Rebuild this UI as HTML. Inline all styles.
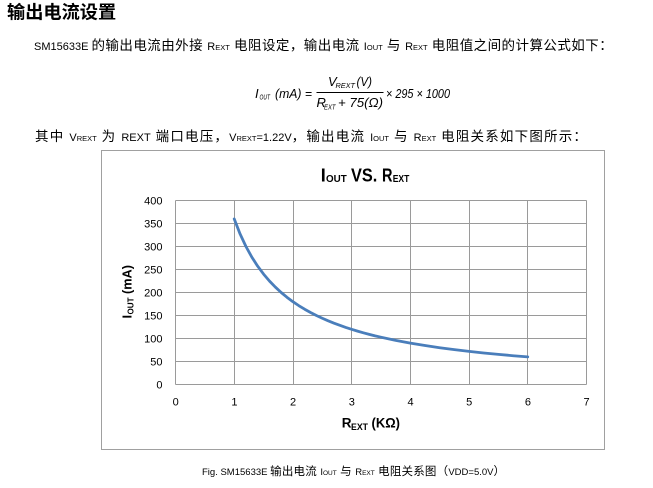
<!DOCTYPE html>
<html>
<head>
<meta charset="utf-8">
<style>
  html, body { margin:0; padding:0; background:#fff; }
  body { width:653px; height:488px; overflow:hidden; }
  svg { display:block; }
  .cj { font-family:"Liberation Sans","Noto Sans CJK SC",sans-serif; fill:#000; }
  .lt { font-family:"Liberation Sans",sans-serif; fill:#000; }
  .l { letter-spacing:0; }
</style>
</head>
<body>
<svg width="653" height="488" viewBox="0 0 653 488" xmlns="http://www.w3.org/2000/svg">
  <rect x="0" y="0" width="653" height="488" fill="#fff"/>

  <!-- Heading -->
  <text class="cj" x="7" y="18.5" font-size="18.2" font-weight="bold">输出电流设置</text>

  <!-- Line 1 -->
  <text class="cj" x="34" y="50" font-size="13.5" letter-spacing="0.45"><tspan class="l" font-size="11">SM15633E </tspan>的输出电流由外接 <tspan class="l" font-size="11">R</tspan><tspan class="l" font-size="7.5">EXT</tspan> 电阻设定，输出电流 <tspan class="l" font-size="11">I</tspan><tspan class="l" font-size="7.5">OUT</tspan> 与 <tspan class="l" font-size="11">R</tspan><tspan class="l" font-size="7.5">EXT</tspan> 电阻值之间的计算公式如下：</text>

  <!-- Formula -->
  <g class="lt" font-style="italic">
    <text x="255" y="98" font-size="13">I</text>
    <text x="259.5" y="99.5" font-size="7.5" textLength="10.5" lengthAdjust="spacingAndGlyphs">OUT</text>
    <text x="275" y="98" font-size="13" textLength="37" lengthAdjust="spacingAndGlyphs">(mA) =</text>
    <text x="328" y="86" font-size="13">V</text>
    <text x="335.5" y="88" font-size="7.5" textLength="19.5" lengthAdjust="spacingAndGlyphs">REXT</text>
    <text x="356.5" y="86" font-size="13" textLength="15.5" lengthAdjust="spacingAndGlyphs">(V)</text>
    <text x="316.5" y="107" font-size="13">R</text>
    <text x="324" y="109.5" font-size="7.5" textLength="11.5" lengthAdjust="spacingAndGlyphs">EXT</text>
    <text x="338" y="107" font-size="13" textLength="45" lengthAdjust="spacingAndGlyphs">+ 75(Ω)</text>
    <text x="386" y="98" font-size="13" textLength="64" lengthAdjust="spacingAndGlyphs">× 295 × 1000</text>
  </g>
  <line x1="316.5" y1="92.5" x2="383.5" y2="92.5" stroke="#000" stroke-width="1"/>

  <!-- Line 3 -->
  <text class="cj" x="35" y="141" font-size="13.5" letter-spacing="1.2">其中 <tspan class="l" font-size="11">V</tspan><tspan class="l" font-size="7.5">REXT</tspan> 为 <tspan class="l" font-size="11">REXT</tspan> 端口电压，<tspan class="l" font-size="11">V</tspan><tspan class="l" font-size="7.5">REXT</tspan><tspan class="l" font-size="11">=1.22V</tspan>，输出电流 <tspan class="l" font-size="11">I</tspan><tspan class="l" font-size="7.5">OUT</tspan> 与 <tspan class="l" font-size="11">R</tspan><tspan class="l" font-size="7.5">EXT</tspan> 电阻关系如下图所示：</text>

  <!-- Chart frame -->
  <rect x="101.5" y="150.5" width="503" height="299" fill="#fff" stroke="#a0a0a0" stroke-width="1"/>

  <!-- Title -->
  <g class="lt" font-weight="bold">
    <text x="320.7" y="181.7" font-size="18">I</text>
    <text x="326" y="182.2" font-size="10" textLength="20.7" lengthAdjust="spacingAndGlyphs">OUT</text>
    <text x="351" y="181.7" font-size="18" textLength="26.3" lengthAdjust="spacingAndGlyphs">VS.</text>
    <text x="382" y="181.7" font-size="18" textLength="10.5" lengthAdjust="spacingAndGlyphs">R</text>
    <text x="392.7" y="182.2" font-size="10" textLength="16.6" lengthAdjust="spacingAndGlyphs">EXT</text>
  </g>

  <!-- Grid -->
  <g stroke="#9a9a9a" stroke-width="1" shape-rendering="crispEdges">
    <line x1="175.5" y1="200.5" x2="586.5" y2="200.5"/>
    <line x1="175.5" y1="223.5" x2="586.5" y2="223.5"/>
    <line x1="175.5" y1="246.5" x2="586.5" y2="246.5"/>
    <line x1="175.5" y1="269.5" x2="586.5" y2="269.5"/>
    <line x1="175.5" y1="292.5" x2="586.5" y2="292.5"/>
    <line x1="175.5" y1="315.5" x2="586.5" y2="315.5"/>
    <line x1="175.5" y1="338.5" x2="586.5" y2="338.5"/>
    <line x1="175.5" y1="361.5" x2="586.5" y2="361.5"/>
    <line x1="175.5" y1="384.5" x2="586.5" y2="384.5"/>
    <line x1="175.5" y1="200.5" x2="175.5" y2="384.5"/>
    <line x1="234.5" y1="200.5" x2="234.5" y2="384.5"/>
    <line x1="293.5" y1="200.5" x2="293.5" y2="384.5"/>
    <line x1="351.5" y1="200.5" x2="351.5" y2="384.5"/>
    <line x1="410.5" y1="200.5" x2="410.5" y2="384.5"/>
    <line x1="469.5" y1="200.5" x2="469.5" y2="384.5"/>
    <line x1="527.5" y1="200.5" x2="527.5" y2="384.5"/>
    <line x1="586.5" y1="200.5" x2="586.5" y2="384.5"/>
  </g>

  <!-- Y tick labels -->
  <g class="lt" font-size="11" text-anchor="end">
    <text x="162.5" y="204.5">400</text>
    <text x="162.5" y="227.5">350</text>
    <text x="162.5" y="250.5">300</text>
    <text x="162.5" y="273.5">250</text>
    <text x="162.5" y="296.5">200</text>
    <text x="162.5" y="319.5">150</text>
    <text x="162.5" y="342.5">100</text>
    <text x="162.5" y="365.5">50</text>
    <text x="162.5" y="388.5">0</text>
  </g>

  <!-- X tick labels -->
  <g class="lt" font-size="11" text-anchor="middle">
    <text x="175.7" y="405.5">0</text>
    <text x="234.4" y="405.5">1</text>
    <text x="293.1" y="405.5">2</text>
    <text x="351.8" y="405.5">3</text>
    <text x="410.5" y="405.5">4</text>
    <text x="469.2" y="405.5">5</text>
    <text x="527.9" y="405.5">6</text>
    <text x="586.6" y="405.5">7</text>
  </g>

  <!-- X axis title -->
  <g class="lt" font-weight="bold">
    <text x="341.7" y="427.7" font-size="13.5">R</text>
    <text x="351" y="430" font-size="9" textLength="17" lengthAdjust="spacingAndGlyphs">EXT</text>
    <text x="371.5" y="427.7" font-size="13.5" textLength="28.5" lengthAdjust="spacingAndGlyphs">(KΩ)</text>
  </g>

  <!-- Y axis title -->
  <g class="lt" font-weight="bold" transform="translate(131.5,318.5) rotate(-90)">
    <text x="0" y="0" font-size="13">I</text>
    <text x="4" y="2" font-size="8.5" textLength="17" lengthAdjust="spacingAndGlyphs">OUT</text>
    <text x="24.5" y="0" font-size="13" textLength="29" lengthAdjust="spacingAndGlyphs">(mA)</text>
  </g>

  <!-- Curve -->
  <polyline fill="none" stroke="#4a7ebb" stroke-width="2.8" stroke-linecap="round" stroke-linejoin="round"
    points="234.21,218.9 240.08,233.95 245.95,246.5 251.82,257.12 257.69,266.21 263.57,274.1 269.44,281.0 275.31,287.09 281.18,292.5 287.05,297.34 292.92,301.7 298.79,305.64 304.66,309.23 310.53,312.5 316.40,315.5 322.27,318.26 328.15,320.81 334.02,323.17 339.89,325.36 345.76,327.41 351.63,329.3 357.50,331.11 363.37,332.8 369.24,334.39 375.12,335.89 380.99,337.19 395.66,340.34 410.34,343.1 425.02,345.54 439.70,347.7 454.38,349.64 469.05,351.38 483.73,352.96 498.41,354.39 513.09,355.71 527.76,356.9"/>

  <!-- Caption -->
  <text class="cj" x="202" y="475" font-size="11.5" letter-spacing="0.2"><tspan class="l" font-size="9.5">Fig. SM15633E </tspan>输出电流 <tspan class="l" font-size="9.5">I</tspan><tspan class="l" font-size="6.5">OUT</tspan> 与 <tspan class="l" font-size="9.5">R</tspan><tspan class="l" font-size="6.5">EXT</tspan> 电阻关系图（<tspan class="l" font-size="9.5">VDD=5.0V</tspan>）</text>
</svg>
</body>
</html>
